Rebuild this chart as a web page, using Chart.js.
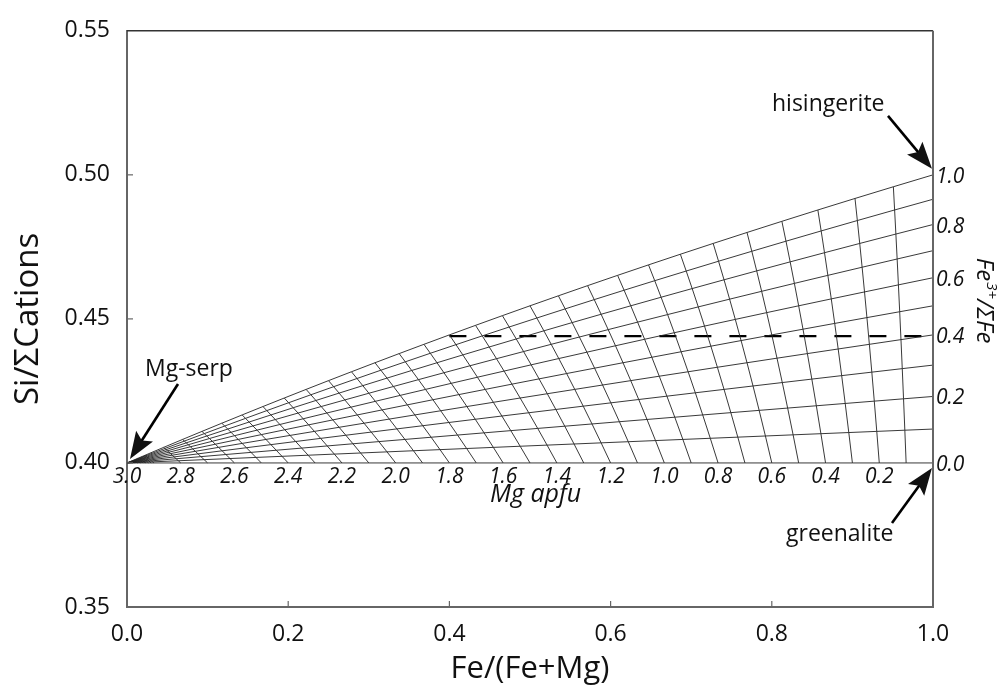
<!DOCTYPE html>
<html>
<head>
<meta charset="utf-8">
<script src="https://cdn.jsdelivr.net/npm/chart.js@4.4.0/dist/chart.umd.min.js"></script>
<style>
  html, body { margin: 0; padding: 0; background: #fff; }
  #myChartDiv { width: 997px; height: 691px; }
</style>
</head>
<body>
<div id="myChartDiv"><canvas id="myChart" width="997" height="691"></canvas></div>
<script>
// Mg apfu of every iso-Mg line of the grid (finer fan next to Mg-serp)
var mgLines = [2.99, 2.98, 2.97, 2.96, 2.95, 2.94, 2.93, 2.92, 2.91,
               2.9, 2.8, 2.7, 2.6, 2.5, 2.4, 2.3, 2.2, 2.1, 2.0, 1.9, 1.8, 1.7, 1.6,
               1.5, 1.4, 1.3, 1.2, 1.1, 1.0, 0.9, 0.8, 0.7, 0.6, 0.5, 0.4, 0.3, 0.2, 0.1];
// nodes used along the iso-Fe3+ lines
var mgNodes = [3.0].concat(mgLines).concat([0.0]);
// Fe3+/sumFe of every iso-ratio line
var fe3Lines = [0.0, 0.1, 0.2, 0.3, 0.4, 0.5, 0.6, 0.7, 0.8, 0.9, 1.0];

// labels written on the grid
var mgLabels = [3.0, 2.8, 2.6, 2.4, 2.2, 2.0, 1.8, 1.6, 1.4, 1.2, 1.0, 0.8, 0.6, 0.4, 0.2];
var fe3Labels = [0.0, 0.2, 0.4, 0.6, 0.8, 1.0];

// axis ticks
var xTicks = [0.0, 0.2, 0.4, 0.6, 0.8, 1.0];
var yTicks = [0.35, 0.40, 0.45, 0.50, 0.55];

// dashed line
var dashX = [0.40, 1.00];
var dashY = [0.444, 0.444];

// serpentine, Si = 2: charge balance 2*Mg + (2+f)*Fe = 6
function node(mg, f) {
  var fe = (6 - 2 * mg) / (2 + f);
  return { x: fe / (fe + mg), y: 2 / (2 + mg + fe) };
}

var FONT = "'Open Sans', 'Noto Sans', sans-serif";
var datasets = [];

mgLines.forEach(function (m) {
  datasets.push({
    data: fe3Lines.map(function (f) { return node(m, f); }),
    borderColor: '#222', borderWidth: 0.9
  });
});
fe3Lines.forEach(function (f) {
  datasets.push({
    data: mgNodes.map(function (m) { return node(m, f); }),
    borderColor: '#222', borderWidth: 0.9
  });
});
datasets.push({
  data: dashX.map(function (x, i) { return { x: x, y: dashY[i] }; }),
  borderColor: '#000', borderWidth: 2.2, borderDash: [17, 18]
});
datasets.forEach(function (d) {
  d.showLine = true; d.pointRadius = 0; d.fill = false; d.clip = false;
});

function arrow(ctx, x1, y1, x2, y2) {
  var ang = Math.atan2(y2 - y1, x2 - x1), c = Math.cos(ang), s = Math.sin(ang);
  var L = 27, W = 10;
  var bx = x2 - L * c, by = y2 - L * s;
  ctx.lineWidth = 2.6;
  ctx.beginPath(); ctx.moveTo(x1, y1); ctx.lineTo(bx + 6 * c, by + 6 * s); ctx.stroke();
  ctx.beginPath();
  ctx.moveTo(x2, y2);
  ctx.lineTo(bx - W * s, by + W * c);
  ctx.lineTo(bx + 5 * c, by + 5 * s);
  ctx.lineTo(bx + W * s, by - W * c);
  ctx.closePath(); ctx.fill();
}

var annotate = {
  id: 'annotate',
  afterDraw: function (chart) {
    var ctx = chart.ctx, xs = chart.scales.x, ys = chart.scales.y, a = chart.chartArea;
    ctx.save();
    // top and right frame
    ctx.strokeStyle = '#333'; ctx.lineWidth = 1.4;
    ctx.beginPath(); ctx.moveTo(a.left, a.top); ctx.lineTo(a.right, a.top); ctx.stroke();
    ctx.strokeStyle = '#666'; ctx.lineWidth = 2;
    ctx.beginPath(); ctx.moveTo(a.right, a.top); ctx.lineTo(a.right, a.bottom + 1); ctx.stroke();
    // inward ticks
    ctx.strokeStyle = '#666'; ctx.lineWidth = 1.2;
    xTicks.slice(1, -1).forEach(function (v) {
      var px = xs.getPixelForValue(v);
      ctx.beginPath(); ctx.moveTo(px, a.bottom); ctx.lineTo(px, a.bottom - 6); ctx.stroke();
    });
    yTicks.slice(1, -1).forEach(function (v) {
      var py = ys.getPixelForValue(v);
      ctx.beginPath(); ctx.moveTo(a.left, py); ctx.lineTo(a.left + 6, py); ctx.stroke();
    });

    ctx.fillStyle = '#111'; ctx.strokeStyle = '#000';
    // Mg apfu labels
    ctx.font = 'italic 21px ' + FONT;
    ctx.textAlign = 'center'; ctx.textBaseline = 'alphabetic';
    mgLabels.forEach(function (m) {
      var p = node(m, 0);
      ctx.fillText(m.toFixed(1), xs.getPixelForValue(p.x), ys.getPixelForValue(p.y) + 20);
    });
    ctx.font = 'italic 25px ' + FONT;
    ctx.fillText('Mg apfu', xs.getPixelForValue(0.507), ys.getPixelForValue(0.40) + 39);

    // Fe3+/sumFe labels
    ctx.font = 'italic 21px ' + FONT;
    ctx.textAlign = 'left';
    fe3Labels.forEach(function (f) {
      var p = node(0, f);
      ctx.fillText(f.toFixed(1), a.right + 3, ys.getPixelForValue(p.y) + 8);
    });
    ctx.save();
    ctx.translate(a.right + 44, ys.getPixelForValue(0.4712));
    ctx.rotate(Math.PI / 2);
    ctx.textAlign = 'left';
    ctx.font = 'italic 24px ' + FONT;
    ctx.fillText('Fe', 0, 0);
    var w = ctx.measureText('Fe').width;
    ctx.font = 'italic 15px ' + FONT;
    ctx.fillText('3+', w + 1, -10);
    var w2 = ctx.measureText('3+').width;
    ctx.font = 'italic 24px ' + FONT;
    ctx.fillText('/\u03A3Fe', w + w2 + 1, 0);
    ctx.restore();

    // end-member names and arrows
    ctx.font = '23px ' + FONT;
    ctx.textAlign = 'left';
    var hx = xs.getPixelForValue(1.0), hy = ys.getPixelForValue(0.50);
    ctx.fillText('hisingerite', hx - 161, hy - 64);
    arrow(ctx, hx - 45, hy - 59, hx - 1, hy - 6);

    var mx = xs.getPixelForValue(0.0), my = ys.getPixelForValue(0.40);
    ctx.fillText('Mg-serp', mx + 18, my - 87);
    arrow(ctx, mx + 51, my - 79, mx + 3, my - 4);

    var gx = xs.getPixelForValue(1.0), gy = ys.getPixelForValue(0.40);
    ctx.fillText('greenalite', gx - 147, gy + 78);
    arrow(ctx, gx - 41, gy + 60, gx - 1, gy + 5);
    ctx.restore();
  }
};

new Chart(document.getElementById('myChart').getContext('2d'), {
  type: 'scatter',
  data: { datasets: datasets },
  plugins: [annotate],
  options: {
    responsive: false,
    maintainAspectRatio: false,
    animation: false,
    layout: { padding: { left: 0, top: 28, right: 64, bottom: 0 } },
    plugins: { legend: { display: false }, tooltip: { enabled: false } },
    scales: {
      x: {
        type: 'linear', min: 0, max: 1,
        afterBuildTicks: function (s) { s.ticks = xTicks.map(function (v) { return { value: v }; }); },
        afterFit: function (s) { s.height = 84; },
        grid: { display: false, drawTicks: false },
        border: { display: true, color: '#666', width: 2 },
        ticks: { padding: 14, color: '#111', font: { family: FONT, size: 23 },
                 callback: function (v) { return Number(v).toFixed(1); } },
        title: { display: true, text: 'Fe/(Fe+Mg)', color: '#111',
                 font: { family: FONT, size: 31 }, padding: { top: 0, bottom: 3 } }
      },
      y: {
        type: 'linear', min: 0.35, max: 0.55,
        afterBuildTicks: function (s) { s.ticks = yTicks.map(function (v) { return { value: v }; }); },
        afterFit: function (s) { s.width = 127; },
        grid: { display: false, drawTicks: false },
        border: { display: true, color: '#666', width: 2 },
        ticks: { padding: 17, color: '#111', font: { family: FONT, size: 23 },
                 callback: function (v) { return Number(v).toFixed(2); } },
        title: { display: true, text: 'Si/\u03A3Cations', color: '#111',
                 font: { family: FONT, size: 33 }, padding: { top: 9, bottom: 0 } }
      }
    }
  }
});
</script>
</body>
</html>
